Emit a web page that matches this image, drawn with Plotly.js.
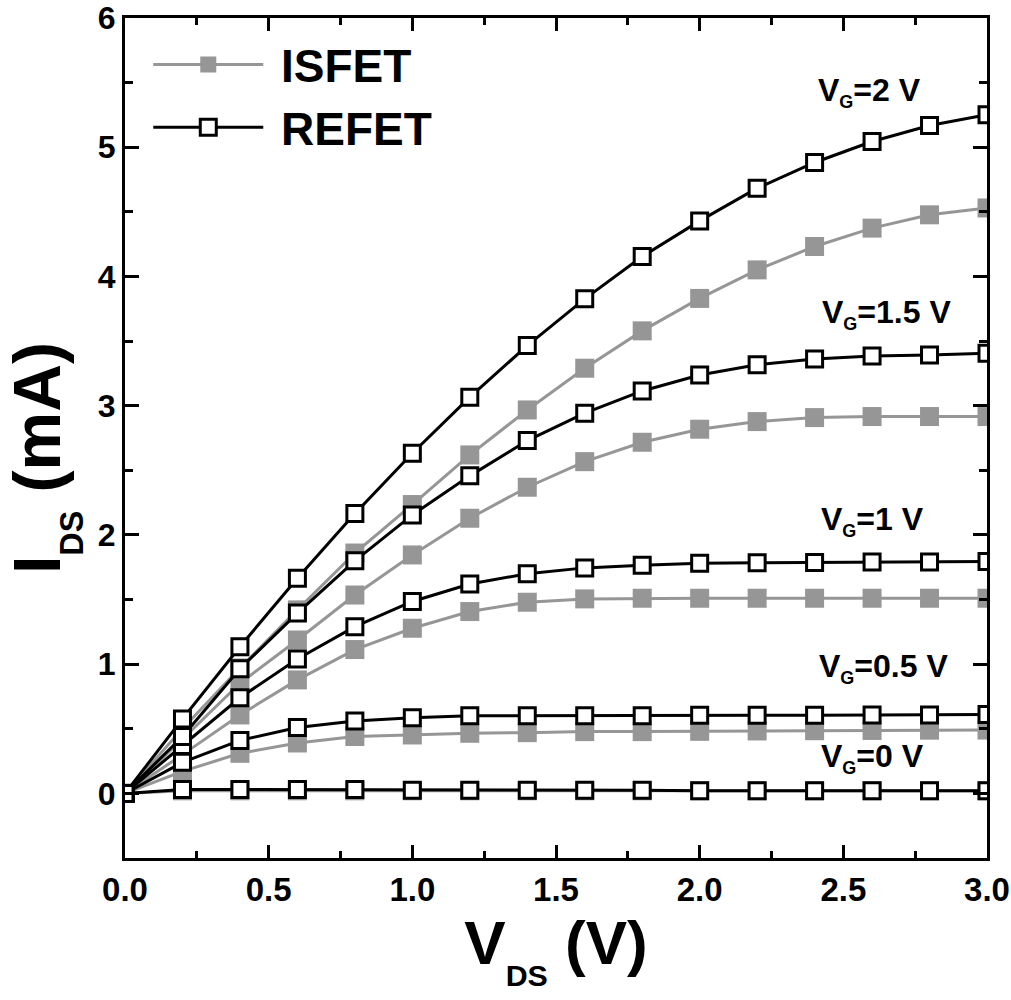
<!DOCTYPE html>
<html>
<head>
<meta charset="utf-8">
<script src="https://cdn.plot.ly/plotly-3.0.1.min.js"></script>
<style>
  body { margin: 0; background: #fff; }
  #chart { width: 1011px; height: 1000px; }
</style>
</head>
<body>
<div id="chart"></div>
<script>
// Данные
const vds = [0, 0.2, 0.4, 0.6, 0.8, 1.0, 1.2, 1.4, 1.6, 1.8, 2.0, 2.2, 2.4, 2.6, 2.8, 3.0];

const vgLabels = ["V<sub><span style=\"font-size:18px\">G</span></sub>=0 V",
                  "V<sub><span style=\"font-size:18px\">G</span></sub>=0.5 V",
                  "V<sub><span style=\"font-size:18px\">G</span></sub>=1 V",
                  "V<sub><span style=\"font-size:18px\">G</span></sub>=1.5 V",
                  "V<sub><span style=\"font-size:18px\">G</span></sub>=2 V"];

// ISFET, I_DS (mA)
const isfetVg0 = [0, 0.02, 0.02, 0.02, 0.02, 0.02, 0.02, 0.02, 0.02, 0.02, 0.02, 0.02, 0.02, 0.02, 0.02, 0.02];
const isfetVg05 = [0, 0.17, 0.31, 0.39, 0.44, 0.452, 0.465, 0.47, 0.478, 0.478, 0.48, 0.483, 0.485, 0.487, 0.489, 0.49];
const isfetVg1 = [0, 0.3, 0.607, 0.878, 1.113, 1.278, 1.407, 1.479, 1.505, 1.51, 1.51, 1.51, 1.51, 1.51, 1.51, 1.51];
const isfetVg15 = [0, 0.42, 0.852, 1.187, 1.535, 1.845, 2.129, 2.369, 2.567, 2.717, 2.818, 2.877, 2.908, 2.916, 2.916, 2.916];
const isfetVg2 = [0, 0.5, 0.97, 1.42, 1.86, 2.235, 2.619, 2.967, 3.29, 3.579, 3.83, 4.051, 4.232, 4.374, 4.477, 4.53];

// REFET, I_DS (mA)
const refetVg0 = [0, 0.03, 0.03, 0.03, 0.03, 0.025, 0.025, 0.025, 0.025, 0.025, 0.02, 0.02, 0.02, 0.02, 0.02, 0.02];
const refetVg05 = [0, 0.24, 0.41, 0.51, 0.56, 0.585, 0.6, 0.6, 0.6, 0.6, 0.605, 0.605, 0.605, 0.607, 0.607, 0.61];
const refetVg1 = [0, 0.37, 0.74, 1.04, 1.29, 1.485, 1.62, 1.7, 1.745, 1.765, 1.78, 1.785, 1.787, 1.79, 1.79, 1.795];
const refetVg15 = [0, 0.44, 0.965, 1.395, 1.8, 2.155, 2.457, 2.73, 2.942, 3.114, 3.238, 3.316, 3.362, 3.385, 3.393, 3.406];
const refetVg2 = [0, 0.576, 1.135, 1.665, 2.165, 2.632, 3.066, 3.465, 3.827, 4.154, 4.43, 4.683, 4.882, 5.044, 5.168, 5.251];

// Подписи кривых: положение текста в единицах осей
const labelX = [2.6, 2.64, 2.6, 2.65, 2.59];
const labelY = [0.27, 0.97, 2.11, 3.71, 5.43];

const isfetCurves = [isfetVg0, isfetVg05, isfetVg1, isfetVg15, isfetVg2];
const refetCurves = [refetVg0, refetVg05, refetVg1, refetVg15, refetVg2];

const FONT = "Liberation Sans, Arial, sans-serif";
const GRAY = "#969696";

let traces = [];

// серые сначала, чтобы чёрные квадраты были сверху
isfetCurves.forEach((ys, i) => {
  traces.push({
    x: vds,
    y: ys,
    type: "scatter",
    mode: "lines+markers",
    name: "\u00a0ISFET",
    showlegend: i === 0,
    line: { color: GRAY, width: 3 },
    marker: { symbol: "square", size: 19, color: GRAY, line: { width: 0 } },
  });
});

refetCurves.forEach((ys, i) => {
  traces.push({
    x: vds,
    y: ys,
    type: "scatter",
    mode: "lines+markers",
    name: "\u00a0REFET",
    showlegend: i === 0,
    line: { color: "#000", width: 3 },
    marker: { symbol: "square", size: 16, color: "#fff", line: { color: "#000", width: 3 } },
  });
});

let annotations = vgLabels.map((t, i) => ({
  x: labelX[i],
  y: labelY[i],
  xref: "x",
  yref: "y",
  text: t,
  showarrow: false,
  xanchor: "center",
  yanchor: "middle",
  font: { family: FONT, size: 32, weight: "bold", color: "#000" },
}));

// подпись оси Y отдельной аннотацией, чтобы прижать её к краю
annotations.push({
  xref: "paper",
  yref: "paper",
  x: -0.093,
  y: 0.476,
  xanchor: "center",
  yanchor: "middle",
  textangle: -90,
  text: "I<sub><sub>DS</sub></sub> (mA)",
  showarrow: false,
  font: { family: FONT, size: 66, weight: "bold", color: "#000" },
});

const layout = {
  width: 1011,
  height: 1000,
  margin: { l: 125, r: 24, t: 18, b: 142 },
  paper_bgcolor: "#fff",
  plot_bgcolor: "#fff",
  font: { family: FONT, weight: "bold", color: "#000" },
  showlegend: true,
  legend: {
    x: 0.027,
    y: 0.988,
    xanchor: "left",
    yanchor: "top",
    bgcolor: "rgba(0,0,0,0)",
    itemwidth: 110,
    font: { family: FONT, size: 46, weight: "bold", color: "#000" },
  },
  xaxis: {
    range: [0, 3.0],
    dtick: 0.5,
    tick0: 0,
    tickformat: ".1f",
    ticks: "inside",
    ticklen: 13,
    tickwidth: 3,
    tickcolor: "#000",
    minor: { dtick: 0.25, ticks: "inside", ticklen: 7, tickwidth: 3, tickcolor: "#000" },
    showline: true,
    linewidth: 3,
    linecolor: "#000",
    mirror: "ticks",
    showgrid: false,
    zeroline: false,
    tickfont: { family: FONT, size: 33, weight: "bold", color: "#000" },
    title: {
      text: "V<sub><sub>DS</sub></sub> (V)",
      font: { family: FONT, size: 62, weight: "bold", color: "#000" },
      standoff: 8,
    },
  },
  yaxis: {
    range: [-0.5, 6],
    dtick: 1,
    tick0: 0,
    ticks: "inside",
    ticklen: 14,
    tickwidth: 3,
    tickcolor: "#000",
    minor: { dtick: 0.5, ticks: "inside", ticklen: 8, tickwidth: 3, tickcolor: "#000" },
    showline: true,
    linewidth: 3,
    linecolor: "#000",
    mirror: "ticks",
    showgrid: false,
    zeroline: false,
    tickfont: { family: FONT, size: 32, weight: "bold", color: "#000" },
  },
  annotations: annotations,
};

Plotly.newPlot("chart", traces, layout, { displayModeBar: false, staticPlot: true });
</script>
</body>
</html>
